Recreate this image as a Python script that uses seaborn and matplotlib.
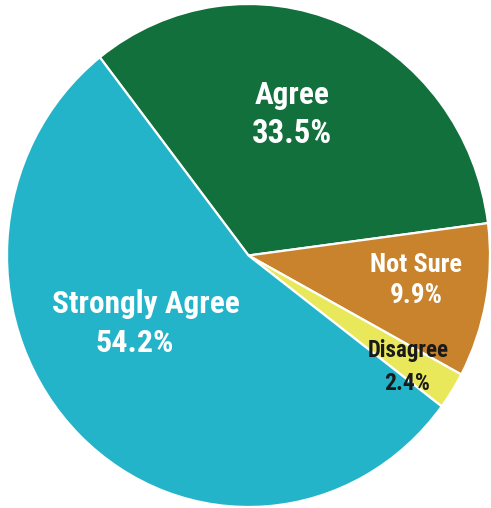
import matplotlib
matplotlib.use("Agg")
import matplotlib.pyplot as plt
from matplotlib import font_manager
import seaborn as sns

# Survey responses, drawn clockwise starting from "Agree"
categories = ["Agree", "Not Sure", "Disagree", "Strongly Agree"]
shares = [33.5, 9.9, 2.4, 54.2]
slice_colors = ["#11703C", "#C8832C", "#E9E85B", "#23B4C9"]
label_colors = ["white", "white", "#1A1A1A", "white"]

sns.set_theme(style="white")

available = {f.name for f in font_manager.fontManager.ttflist}
narrow = [n for n in ("Liberation Sans Narrow", "Roboto Condensed", "DejaVu Sans Condensed")
          if n in available]
plt.rcParams["font.family"] = narrow + ["Liberation Sans", "DejaVu Sans"]

W, H = 491, 508
fig = plt.figure(figsize=(W / 100, H / 100), dpi=100)
fig.patch.set_facecolor("white")

# Pie bounding box in pixels (slightly taller than wide)
left_px, right_px, top_px, bottom_px = 7, 490, 4, 507
ax = fig.add_axes([left_px / W, (H - bottom_px) / H,
                   (right_px - left_px) / W, (bottom_px - top_px) / H])
ax.set_axis_off()

palette = sns.color_palette(slice_colors)
wedges, _ = ax.pie(shares, colors=palette, startangle=128, counterclock=False,
                   radius=1.0, center=(0, 0),
                   wedgeprops=dict(edgecolor="white", linewidth=1.6))
ax.set_xlim(-1, 1)
ax.set_ylim(-1, 1)
ax.set_aspect("auto")


def px_to_axes(x, y):
    return ((x - left_px) / (right_px - left_px), (bottom_px - y) / (bottom_px - top_px))


# (category index, name line x/baseline, value line x/baseline, name size, value size)
label_layout = [
    (0, (292, 104), (292, 143), 22.5, 23.5),
    (1, (416, 272), (416.5, 303), 19, 19.5),
    (2, (408, 357), (407, 390), 16.5, 17),
    (3, (146, 313), (135, 352), 22.5, 23),
]

for idx, (nx, ny), (vx, vy), nsize, vsize in label_layout:
    ax.text(*px_to_axes(nx, ny), categories[idx], transform=ax.transAxes,
            ha="center", va="baseline", fontsize=nsize, fontweight="bold",
            color=label_colors[idx])
    ax.text(*px_to_axes(vx, vy), f"{shares[idx]:.1f}%", transform=ax.transAxes,
            ha="center", va="baseline", fontsize=vsize, fontweight="bold",
            color=label_colors[idx])

fig.savefig("out.png", dpi=100, facecolor="white")
